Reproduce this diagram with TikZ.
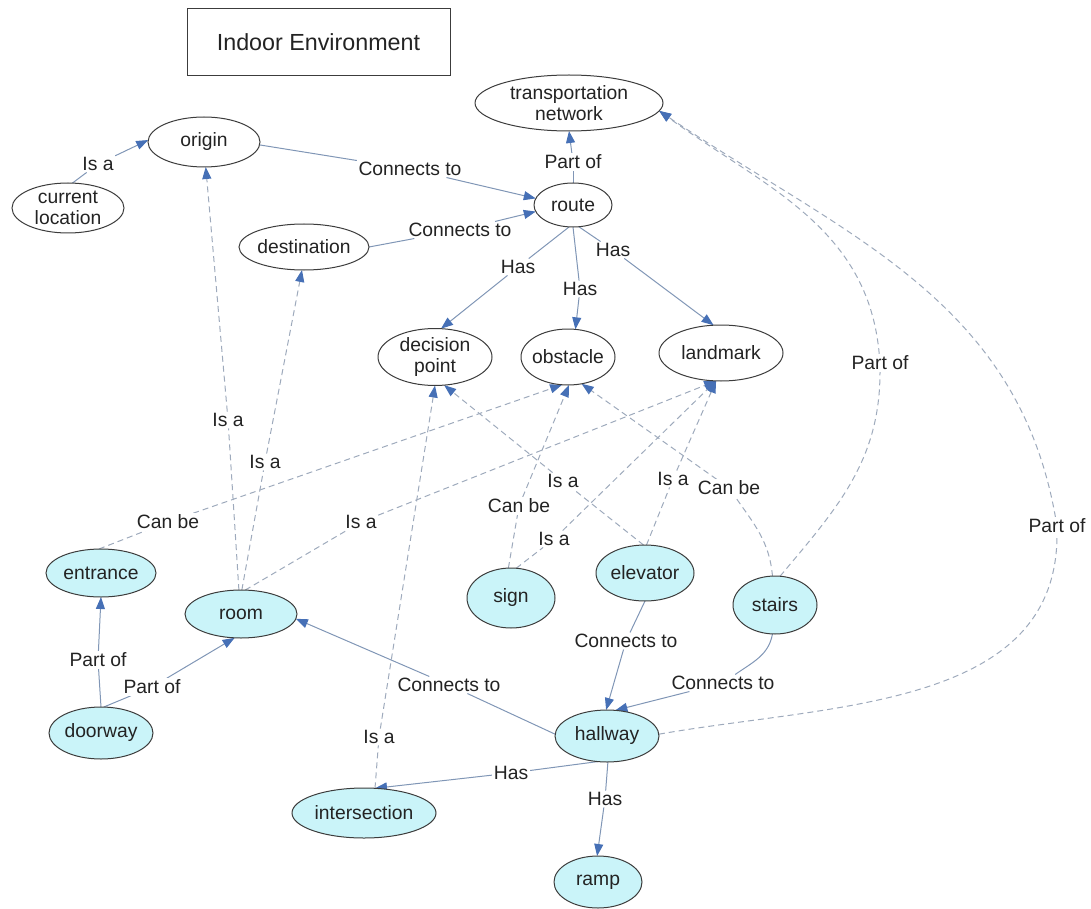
\documentclass[tikz,border=0pt]{standalone}
\usepackage{fontspec}
\setmainfont{Liberation Sans}
\usetikzlibrary{shapes.geometric,arrows.meta,backgrounds}
\definecolor{linecol}{RGB}{128,150,182}
\definecolor{dashcol}{RGB}{158,170,188}
\definecolor{arrowcol}{RGB}{70,112,182}
\definecolor{aquafill}{RGB}{202,244,249}
\definecolor{bordercol}{RGB}{60,60,60}
\definecolor{textcol}{RGB}{35,35,35}
\begin{document}
\begin{tikzpicture}[x=1pt,y=-1pt,
  every node/.style={text=textcol, font=\fontsize{19.3}{21.5}\selectfont},
  titlebox/.style={draw=bordercol, line width=1pt, minimum width=263pt, minimum height=67pt, inner sep=0pt, font=\fontsize{23.3}{26}\selectfont},
  concept/.style={ellipse, draw=bordercol, line width=1pt, fill=white, inner sep=0pt, outer sep=0pt},
  aqua/.style={concept, fill=aquafill},
  ctext/.style={align=center, inner sep=0pt},
  lbl/.style={fill=white, inner sep=1.5pt},
  tip/.style={-{Triangle[length=12pt,width=9pt,color=arrowcol]}},
  plain/.style={draw=linecol, line width=1pt},
  link/.style={plain, tip},
  dplain/.style={draw=dashcol, line width=1pt, dash pattern=on 6pt off 4pt},
  dlink/.style={dplain, tip},
]
\useasboundingbox (0,0) rectangle (1091,909);

% title
\node[titlebox] (title) at (318.5,42.5) {Indoor Environment};

% concepts
\node[concept, minimum width=188pt, minimum height=56pt] (tn) at (569,103) {};
\node[ctext] (tn-t) at (tn) {transportation\\network};
\node[concept, minimum width=112pt, minimum height=50pt] (origin) at (204,142) {};
\node[ctext] (origin-t) at (origin) {origin};
\node[concept, minimum width=112pt, minimum height=50pt] (curloc) at (68,208) {};
\node[ctext] (curloc-t) at (curloc) {current\\location};
\node[concept, minimum width=78pt, minimum height=44pt] (route) at (573,205) {};
\node[ctext] (route-t) at (route) {route};
\node[concept, minimum width=130pt, minimum height=46pt] (dest) at (304,247) {};
\node[ctext] (dest-t) at (dest) {destination};
\node[concept, minimum width=114pt, minimum height=57pt] (decision) at (435,357) {};
\node[ctext] (decision-t) at (decision) {decision\\point};
\node[concept, minimum width=94pt, minimum height=56pt] (obstacle) at (568,357) {};
\node[ctext] (obstacle-t) at (obstacle) {obstacle};
\node[concept, minimum width=124pt, minimum height=56pt] (landmark) at (721,353) {};
\node[ctext] (landmark-t) at (landmark) {landmark};

\node[aqua, minimum width=110pt, minimum height=48pt] (entrance) at (101,573) {};
\node[ctext] (entrance-t) at (entrance) {entrance};
\node[aqua, minimum width=112pt, minimum height=48pt] (room) at (241,614) {};
\node[ctext] (room-t) at (room) {room};
\node[aqua, minimum width=88pt, minimum height=60pt] (sign) at (511,598) {};
\node[ctext] (sign-t) at (sign) {sign};
\node[aqua, minimum width=98pt, minimum height=56pt] (elevator) at (645,573) {};
\node[ctext] (elevator-t) at (elevator) {elevator};
\node[aqua, minimum width=84pt, minimum height=58pt] (stairs) at (775,605) {};
\node[ctext] (stairs-t) at (stairs) {stairs};
\node[aqua, minimum width=104pt, minimum height=52pt] (doorway) at (101,733) {};
\node[ctext] (doorway-t) at (doorway) {doorway};
\node[aqua, minimum width=104pt, minimum height=52pt] (hallway) at (607,736) {};
\node[ctext] (hallway-t) at (hallway) {hallway};
\node[aqua, minimum width=144pt, minimum height=50pt] (intersection) at (364,813) {};
\node[ctext] (intersection-t) at (intersection) {intersection};
\node[aqua, minimum width=88pt, minimum height=52pt] (ramp) at (598,882) {};
\node[ctext] (ramp-t) at (ramp) {ramp};

% link labels
\node[lbl] (l1) at (98,164) {Is a};
\node[lbl] (l2) at (410,169) {Connects to};
\node[lbl] (l3) at (460,230) {Connects to};
\node[lbl] (l4) at (573,162) {Part of};
\node[lbl] (l5) at (518,267) {Has};
\node[lbl] (l6) at (580,289) {Has};
\node[lbl] (l7) at (613,250) {Has};
\node[lbl] (l8) at (228,420) {Is a};
\node[lbl] (l9) at (265,462) {Is a};
\node[lbl] (l10) at (168,522) {Can be};
\node[lbl] (l11) at (361,522) {Is a};
\node[lbl] (l12) at (379,737) {Is a};
\node[lbl] (l13) at (563,481) {Is a};
\node[lbl] (l14) at (519,506) {Can be};
\node[lbl] (l15) at (554,539) {Is a};
\node[lbl] (l16) at (673,479) {Is a};
\node[lbl] (l17) at (729,488) {Can be};
\node[lbl] (l18) at (880,363) {Part of};
\node[lbl] (l19) at (1057,526) {Part of};
\node[lbl] (l20) at (626,641) {Connects to};
\node[lbl] (l21) at (723,683) {Connects to};
\node[lbl] (l22) at (449,685) {Connects to};
\node[lbl] (l23) at (98,660) {Part of};
\node[lbl] (l24) at (152,687) {Part of};
\node[lbl] (l25) at (511,773) {Has};
\node[lbl] (l26) at (605,799) {Has};

\begin{scope}[on background layer]
% solid links
\draw[plain] (curloc.80) -- (l1);   \draw[link] (l1) -- (origin.178);
\draw[plain] (origin.-3) -- (l2);   \draw[link] (l2) -- (route.170);
\draw[plain] (dest.0) -- (l3);      \draw[link] (l3) -- (route.190);
\draw[plain] (route.90) -- (l4);    \draw[link] (l4) -- (tn.-90);
\draw[plain] (route.-100) -- (l5);  \draw[link] (l5) -- (decision.78);
\draw[plain] (route.-90) -- (l6);   \draw[link] (l6) -- (obstacle.75);
\draw[plain] (route.-75) -- (l7);   \draw[link] (l7) -- (landmark.105);
\draw[plain] (elevator.-90) -- (l20); \draw[link] (l20) -- (hallway.92);
\draw[plain] (stairs.-95) to[out=-100,in=35] (l21); \draw[link] (l21) -- (hallway.72);
\draw[plain] (hallway.178) -- (l22); \draw[link] (l22) -- (room.-5);
\draw[plain] (doorway.90) -- (l23); \draw[link] (l23) -- (entrance.-90);
\draw[plain] (doorway.84) -- (l24); \draw[link] (l24) -- (room.-105);
\draw[plain] (hallway.-110) -- (l25); \draw[link] (l25) -- (intersection.66);
\draw[plain] (hallway.-88) -- (l26); \draw[link] (l26) -- (ramp.92);
% dashed links
\draw[dplain] (room.95) -- (l8);    \draw[dlink] (l8) -- (origin.-86);
\draw[dplain] (room.88) -- (l9);    \draw[dlink] (l9) -- (dest.-95);
\draw[dplain] (entrance.95) -- (l10); \draw[dlink] (l10) -- (obstacle.-102);
\draw[dplain] (room.80) -- (l11);   \draw[dlink] (l11) -- (landmark.-100);
\draw[dplain] (intersection.66) -- (l12); \draw[dlink] (l12) -- (decision.-90);
\draw[dplain] (elevator.93) -- (l13); \draw[dlink] (l13) -- (decision.-72);
\draw[dplain] (sign.95) -- (l14);   \draw[dlink] (l14) -- (obstacle.-88);
\draw[dplain] (sign.80) -- (l15);   \draw[dlink] (l15) -- (landmark.-100);
\draw[dplain] (elevator.87) -- (l16); \draw[dlink] (l16) -- (landmark.-100);
\draw[dplain] (stairs.95) to[out=95,in=-55] (l17); \draw[dlink] (l17) -- (obstacle.-63);
\draw[dplain] (stairs.80) to[out=50,in=-90] (l18); \draw[dlink] (l18) to[out=95,in=-36] (tn.-5);
\draw[dplain] (hallway.2) to[out=10,in=-90] (l19); \draw[dlink] (l19) to[out=100,in=-34] (tn.-5);
\end{scope}
\end{tikzpicture}
\end{document}
